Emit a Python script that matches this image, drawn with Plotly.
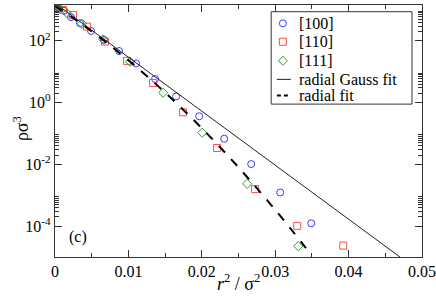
import plotly.graph_objects as go

# ---- data ----
x100 = [0.0, 0.00014, 0.00055, 0.00123, 0.00218, 0.00341, 0.00491, 0.00668, 0.00873,
        0.01105, 0.01364, 0.0165, 0.01964, 0.02305, 0.02673, 0.03068, 0.03491]
y100 = [1349, 1259, 1122, 933, 582, 372, 209, 107, 46.8, 18.6, 5.82, 1.58, 0.36,
        0.0676, 0.0102, 1.23e-3, 1.23e-4]

x110 = [0.0, 0.000273, 0.00109, 0.00245, 0.00436, 0.00682, 0.00982, 0.01336, 0.01745,
        0.02209, 0.02727, 0.033, 0.03927]
y110 = [1349, 1202, 1000, 692, 288, 94.2, 22.4, 4.32, 0.485, 0.0339, 1.58e-3, 1.02e-4, 2.34e-5]

x111 = [0.0, 0.000409, 0.00164, 0.00368, 0.00655, 0.01023, 0.01473, 0.02005, 0.02618, 0.03314]
y111 = [1349, 1288, 785, 355, 112, 20.9, 2.09, 0.106, 2.34e-3, 2.24e-5]

gauss_x = [0.0, 0.047]
gauss_y = [1660.0, 1.0e-5]

rfit_x = [0.0, 0.0025, 0.005, 0.0075, 0.01, 0.0125, 0.015, 0.0175, 0.02, 0.0225,
          0.025, 0.0275, 0.03, 0.0325, 0.035]
rfit_y = [1349, 540, 203, 71.3, 23.5, 7.31, 2.12, 0.579, 0.148, 0.0356,
          8.0e-3, 1.69e-3, 3.37e-4, 6.25e-5, 1.1e-5]

series_names = ["[100]", "[110]", "[111]", "radial Gauss fit", "radial fit"]
xtick_vals = [0, 0.01, 0.02, 0.03, 0.04, 0.05]
xtick_text = ["0", "0.01", "0.02", "0.03", "0.04", "0.05"]
xminor_vals = [0.005, 0.015, 0.025, 0.035, 0.045]
ytick_vals = [1e-4, 1e-2, 1, 1e2]
ytick_text = ["10<sup>-4</sup>", "10<sup>-2</sup>", "10<sup>0</sup>", "10<sup>2</sup>"]
yminor_vals = [k * 10.0 ** m for m in (-4, -2, 0, 2) for k in range(2, 10)]

FONT = "Liberation Serif"
AX = "#333333"
C_BLUE, C_RED, C_GREEN = "#3a3aff", "#ff4d4d", "#2ca02c"
SYMS = ["circle-open", "square-open", "diamond-open"]
COLS = [C_BLUE, C_RED, C_GREEN]

# plot-area geometry (pixels)
W, H = 436, 296
ML, MR, MT, MB = 55, 14.3, 5, 39.3
PW, PH = W - ML - MR, H - MT - MB


def px(xp):
    return (xp - ML) / PW


def py(yp):
    return 1 - (yp - MT) / PH


fig = go.Figure()
for xs, ys, nm, sy, c in zip([x100, x110, x111], [y100, y110, y111], series_names[:3], SYMS, COLS):
    fig.add_trace(go.Scatter(x=xs, y=ys, mode="markers", name=nm, showlegend=False,
                             marker=dict(symbol=sy, size=7, color=c, line=dict(width=1, color=c))))
fig.add_trace(go.Scatter(x=gauss_x, y=gauss_y, mode="lines", name=series_names[3], showlegend=False,
                         line=dict(color="#222222", width=1)))
fig.add_trace(go.Scatter(x=rfit_x, y=rfit_y, mode="lines", name=series_names[4], showlegend=False,
                         line=dict(color="black", width=2, dash="dash", shape="spline")))

# ---- manual legend (compact like the original) ----
row_y = [23.3, 41.7, 60.7, 79.3, 95.5]
sym_x = 282.7
fig.add_trace(go.Scatter(x=[px(sym_x)] * 3, y=[py(v) for v in row_y[:3]], xaxis="x2", yaxis="y2",
                         mode="markers", showlegend=False, hoverinfo="skip",
                         marker=dict(symbol=SYMS, size=7, color=COLS,
                                     line=dict(width=1, color=COLS))))
shapes = [dict(type="rect", xref="paper", yref="paper", x0=px(271), x1=px(411.7),
               y0=py(104), y1=py(11.7), line=dict(color=AX, width=1), fillcolor="white",
               layer="below")]
shapes.append(dict(type="line", xref="paper", yref="paper", x0=px(276.7), x1=px(290.7),
                   y0=py(row_y[3]), y1=py(row_y[3]), line=dict(color="#222222", width=1)))
shapes.append(dict(type="line", xref="paper", yref="paper", x0=px(276.7), x1=px(290.7),
                   y0=py(row_y[4]), y1=py(row_y[4]), line=dict(color="black", width=2, dash="4px,3px")))
annotations = []
for nm, ry in zip(series_names, row_y):
    annotations.append(dict(text=nm, x=px(297), y=py(ry), xref="paper", yref="paper",
                            xanchor="left", yanchor="middle", showarrow=False,
                            font=dict(family=FONT, size=16)))
annotations.append(dict(text="(c)", x=px(67), y=py(237), xref="paper", yref="paper",
                        xanchor="left", yanchor="middle", showarrow=False,
                        font=dict(family=FONT, size=16)))
annotations.append(dict(text="<i>r</i><sup>2</sup> / σ<sup>2</sup>", x=px(238), y=py(282),
                        xref="paper", yref="paper", xanchor="center", yanchor="middle",
                        showarrow=False, font=dict(family=FONT, size=18)))
annotations.append(dict(text="ρσ<sup>3</sup>", x=px(21), y=py(128), xref="paper", yref="paper",
                        xanchor="center", yanchor="middle", textangle=-90,
                        showarrow=False, font=dict(family=FONT, size=18)))

fig.update_layout(
    width=W, height=H,
    margin=dict(l=ML, r=MR, t=MT, b=MB, autoexpand=False),
    paper_bgcolor="white", plot_bgcolor="white",
    font=dict(family=FONT, size=15, color="black"),
    showlegend=False,
    shapes=shapes,
    annotations=annotations,
    xaxis2=dict(overlaying="x", range=[0, 1], visible=False, fixedrange=True),
    yaxis2=dict(overlaying="y", range=[0, 1], visible=False, fixedrange=True),
)
fig.update_layout(xaxis=dict(range=[0, 0.05], tickmode="array", tickvals=xtick_vals, ticktext=xtick_text,
                             ticks="inside", ticklen=7, tickwidth=1, tickcolor=AX,
                             showline=True, linecolor=AX, linewidth=1.3, mirror="ticks",
                             showgrid=False, zeroline=False, automargin=False,
                             tickfont=dict(family=FONT, size=16),
                             minor=dict(tickmode="array", tickvals=xminor_vals, ticks="inside",
                                        ticklen=4, tickcolor=AX, showgrid=False)),
                  yaxis=dict(type="log", range=[-5, 3.16], tickmode="array", tickvals=ytick_vals,
                             ticktext=ytick_text, ticks="inside", ticklen=7, tickwidth=1, tickcolor=AX,
                             showline=True, linecolor=AX, linewidth=1.3, mirror="ticks",
                             showgrid=False, zeroline=False, automargin=False,
                             tickfont=dict(family=FONT, size=16),
                             minor=dict(tickmode="array", tickvals=yminor_vals, ticks="inside",
                                        ticklen=4, tickcolor=AX, showgrid=False)))

fig.write_html("out.html", config={"displayModeBar": False},
               post_script="document.body.style.margin='0px';")
